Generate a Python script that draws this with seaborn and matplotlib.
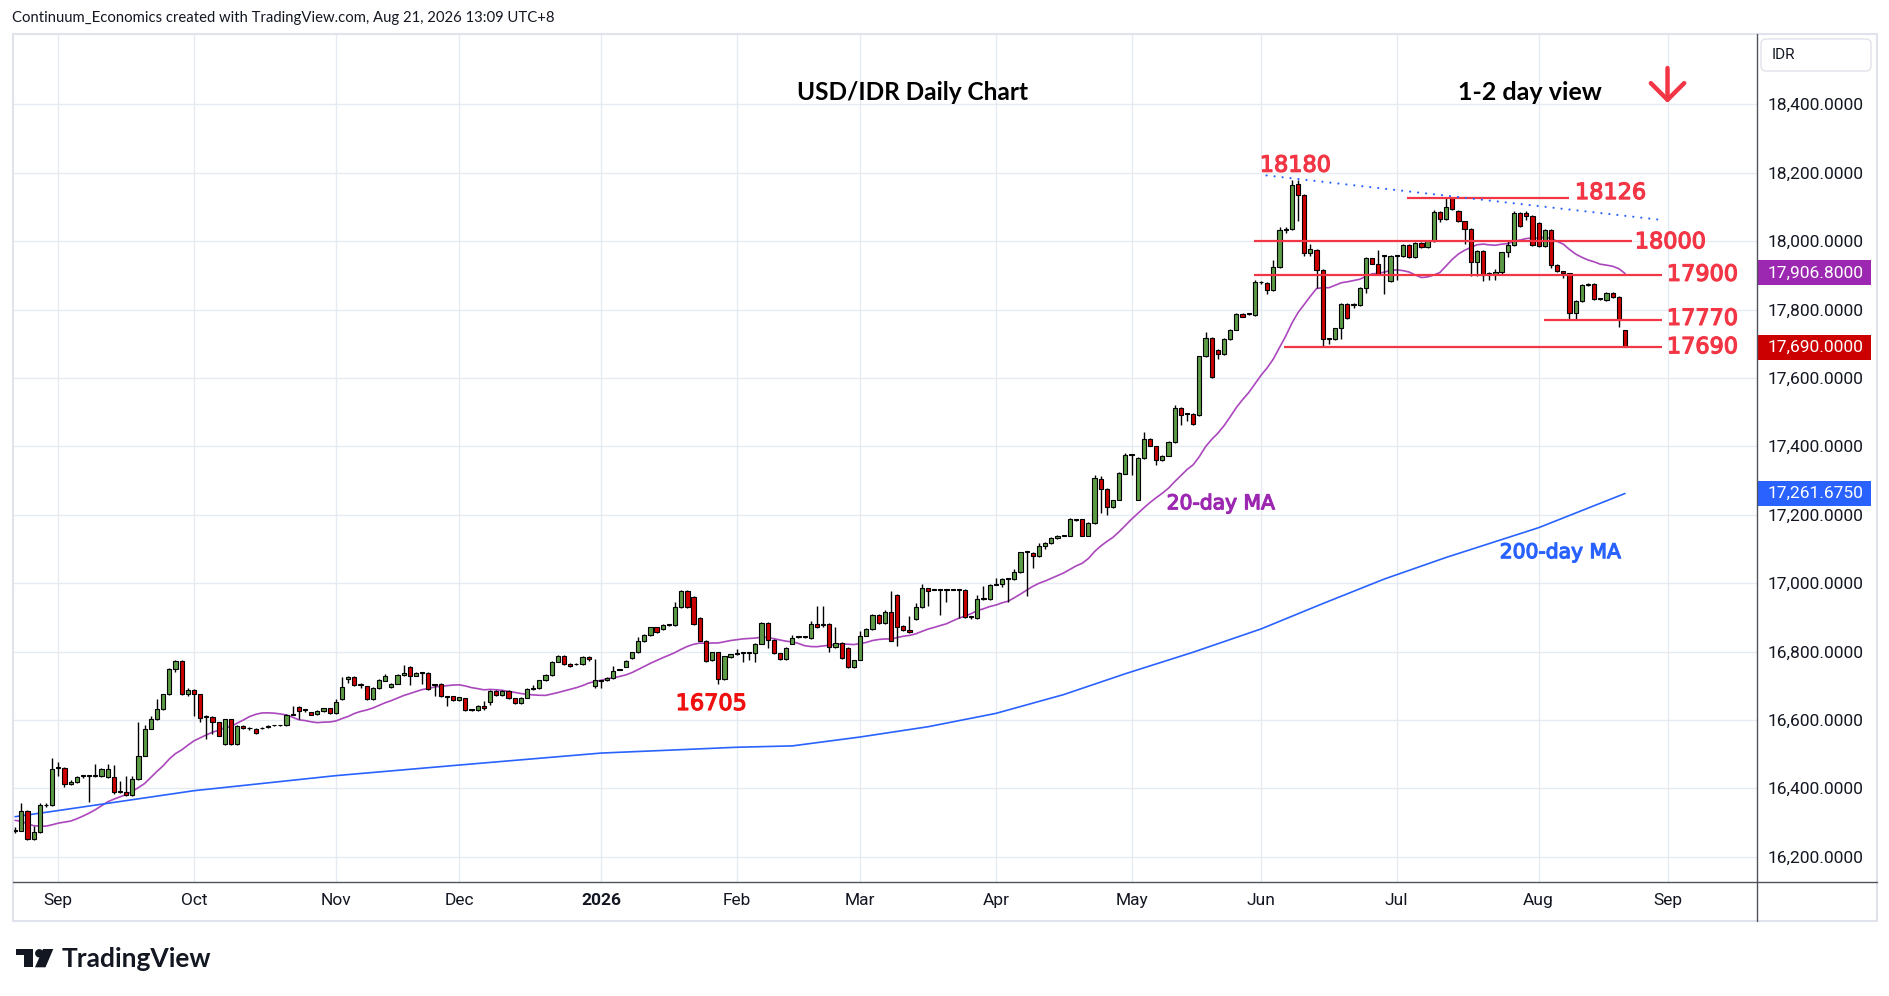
import numpy as np
import pandas as pd
import seaborn as sns
import matplotlib.pyplot as plt
import matplotlib.transforms as mtransforms
import matplotlib.patheffects as pe
from matplotlib.patches import Rectangle, Circle, Polygon, FancyBboxPatch

# USD/IDR daily candles, one row per month (weekday sessions, Aug 21 2025 -> Aug 21 2026)
opens = [
    16276, 16276, 16335, 16251, 16272, 16350, 16350,
    16460, 16459, 16412, 16418, 16435, 16436, 16436, 16436, 16433, 16433, 16389, 16389, 16379, 16427, 16495, 16574, 16602, 16632, 16675, 16749, 16772, 16675,
    16687, 16675, 16608, 16608, 16593, 16529, 16602, 16529, 16583, 16575, 16574, 16575, 16579, 16584, 16584, 16584, 16615, 16639, 16628, 16622, 16616, 16626, 16634,
    16620, 16661, 16719, 16725, 16702, 16698, 16661, 16693, 16715, 16696, 16706, 16731, 16756, 16729, 16737, 16737, 16704, 16705, 16669, 16669,
    16658, 16663, 16628, 16628, 16641, 16651, 16684, 16672, 16684, 16663, 16649, 16665, 16690, 16692, 16716, 16731, 16770, 16787, 16763, 16762, 16763, 16785, 16700,
    16713, 16717, 16723, 16747, 16756, 16780, 16798, 16830, 16848, 16871, 16865, 16878, 16878, 16930, 16977, 16959, 16898, 16832, 16774, 16798, 16719, 16783,
    16792, 16795, 16795, 16795, 16823, 16883, 16834, 16795, 16778, 16823, 16842, 16842, 16839, 16880, 16878, 16880, 16813, 16825, 16810, 16754,
    16776, 16846, 16866, 16907, 16883, 16915, 16965, 16875, 16863, 16895, 16930, 16985, 16981, 16981, 16981, 16981, 16981, 16981, 16901, 16898, 16953, 16953,
    16995, 16997, 17012, 17012, 17033, 17090, 17088, 17079, 17109, 17117, 17132, 17139, 17139, 17184, 17186, 17139, 17176, 17305, 17275, 17222, 17244, 17320,
    17376, 17244, 17366, 17422, 17400, 17359, 17373, 17413, 17512, 17495, 17495, 17492, 17663, 17717, 17683, 17670, 17714, 17741, 17787, 17787, 17785,
    17879, 17878, 17858, 17925, 18033, 18035, 18168, 18134, 17966, 17973, 17915, 17713, 17713, 17745, 17817, 17817, 17813, 17862, 17950, 17934, 17956, 17882,
    17957, 17955, 17989, 17953, 17994, 17982, 18000, 18086, 18065, 18126, 18089, 18058, 18035, 17938, 17971, 17905, 17903, 17909, 17967, 17989, 18082, 18082, 18073,
    18053, 17985, 18033, 17930, 17912, 17906, 17789, 17825, 17872, 17876, 17830, 17828, 17849, 17838, 17739,
]
highs = [
    16286, 16357, 16338, 16290, 16358, 16358, 16490,
    16478, 16461, 16424, 16436, 16437, 16438, 16472, 16458, 16472, 16467, 16420, 16436, 16436, 16595, 16586, 16612, 16661, 16677, 16752, 16774, 16774, 16692,
    16689, 16677, 16613, 16610, 16595, 16604, 16604, 16585, 16585, 16580, 16576, 16578, 16585, 16586, 16586, 16616, 16641, 16641, 16632, 16624, 16628, 16636, 16636,
    16661, 16725, 16727, 16727, 16708, 16700, 16695, 16719, 16735, 16708, 16735, 16760, 16758, 16739, 16740, 16739, 16706, 16707, 16671, 16671,
    16668, 16665, 16631, 16643, 16655, 16686, 16686, 16686, 16686, 16665, 16667, 16692, 16702, 16718, 16733, 16772, 16790, 16789, 16765, 16765, 16787, 16787, 16778,
    16716, 16725, 16758, 16750, 16775, 16800, 16842, 16850, 16873, 16873, 16880, 16881, 16944, 16979, 16979, 16961, 16900, 16834, 16800, 16800, 16788, 16794,
    16807, 16797, 16797, 16825, 16885, 16885, 16836, 16797, 16812, 16849, 16844, 16844, 16888, 16932, 16932, 16882, 16873, 16827, 16812, 16776,
    16859, 16868, 16909, 16909, 16922, 16978, 16967, 16877, 16903, 16942, 16998, 16987, 16983, 16983, 16983, 16983, 16983, 16983, 16903, 16966, 16992, 16997,
    17015, 17014, 17014, 17041, 17092, 17092, 17090, 17117, 17120, 17134, 17141, 17141, 17190, 17186, 17188, 17178, 17315, 17312, 17277, 17244, 17324, 17381,
    17378, 17368, 17441, 17424, 17402, 17375, 17415, 17522, 17514, 17497, 17497, 17665, 17734, 17719, 17685, 17717, 17743, 17789, 17789, 17789, 17885,
    17882, 17880, 17946, 18042, 18042, 18178, 18180, 18137, 17991, 17978, 17918, 17716, 17747, 17819, 17819, 17819, 17865, 17954, 17952, 17975, 17959, 17959,
    17959, 17991, 17991, 17996, 17996, 18002, 18090, 18088, 18128, 18128, 18091, 18060, 18037, 17973, 17973, 17909, 17918, 17969, 17999, 18089, 18084, 18089, 18075,
    18055, 18035, 18035, 17932, 17914, 17908, 17827, 17874, 17878, 17878, 17832, 17852, 17851, 17840, 17741,
]
lows = [
    16270, 16274, 16249, 16249, 16270, 16344, 16348,
    16435, 16403, 16410, 16416, 16431, 16361, 16434, 16434, 16431, 16384, 16385, 16377, 16377, 16425, 16493, 16572, 16600, 16630, 16673, 16739, 16673, 16669,
    16610, 16593, 16544, 16558, 16552, 16527, 16527, 16527, 16573, 16570, 16559, 16573, 16577, 16582, 16582, 16582, 16613, 16602, 16624, 16613, 16614, 16624, 16618,
    16618, 16659, 16708, 16699, 16693, 16659, 16659, 16691, 16713, 16694, 16704, 16729, 16702, 16727, 16705, 16686, 16669, 16667, 16642, 16656,
    16656, 16626, 16626, 16626, 16630, 16645, 16670, 16670, 16661, 16647, 16647, 16663, 16688, 16690, 16714, 16729, 16768, 16761, 16755, 16760, 16761, 16771, 16692,
    16692, 16715, 16721, 16745, 16754, 16778, 16796, 16828, 16846, 16855, 16863, 16876, 16876, 16928, 16928, 16878, 16830, 16770, 16772, 16705, 16717, 16781,
    16790, 16768, 16776, 16768, 16821, 16810, 16793, 16776, 16776, 16821, 16840, 16840, 16837, 16869, 16873, 16800, 16811, 16779, 16752, 16752,
    16774, 16844, 16864, 16881, 16881, 16830, 16815, 16860, 16854, 16893, 16928, 16934, 16979, 16907, 16944, 16979, 16898, 16899, 16895, 16896, 16951, 16951,
    16993, 16988, 16944, 17010, 17031, 16963, 17044, 17077, 17100, 17115, 17130, 17137, 17137, 17182, 17137, 17137, 17174, 17205, 17200, 17220, 17242, 17318,
    17317, 17242, 17364, 17400, 17346, 17357, 17371, 17411, 17462, 17473, 17462, 17490, 17661, 17601, 17654, 17668, 17712, 17739, 17777, 17785, 17780,
    17875, 17844, 17854, 17922, 18025, 18032, 18059, 17957, 17957, 17864, 17693, 17698, 17710, 17713, 17772, 17804, 17810, 17849, 17932, 17900, 17846, 17880,
    17886, 17953, 17951, 17951, 17980, 17980, 17998, 18055, 18063, 18092, 18056, 17992, 17899, 17899, 17884, 17886, 17886, 17901, 17953, 17987, 18041, 18062, 17987,
    17983, 17983, 17920, 17910, 17891, 17771, 17771, 17823, 17870, 17828, 17828, 17826, 17835, 17750, 17690,
]
closes = [
    16278, 16335, 16251, 16272, 16350, 16351, 16456,
    16461, 16412, 16418, 16434, 16436, 16436, 16437, 16456, 16456, 16389, 16390, 16379, 16427, 16495, 16574, 16602, 16632, 16675, 16749, 16772, 16675, 16687,
    16675, 16607, 16609, 16593, 16554, 16602, 16529, 16583, 16575, 16576, 16561, 16576, 16580, 16585, 16585, 16614, 16616, 16625, 16629, 16615, 16626, 16634, 16620,
    16652, 16696, 16725, 16701, 16702, 16661, 16693, 16717, 16727, 16705, 16732, 16737, 16727, 16737, 16738, 16690, 16703, 16669, 16668, 16658,
    16666, 16628, 16629, 16641, 16634, 16684, 16672, 16684, 16663, 16649, 16665, 16690, 16693, 16716, 16731, 16770, 16788, 16763, 16757, 16763, 16785, 16778, 16717,
    16714, 16723, 16743, 16748, 16773, 16798, 16830, 16848, 16871, 16857, 16878, 16879, 16930, 16977, 16930, 16880, 16832, 16772, 16798, 16719, 16786, 16792,
    16793, 16795, 16796, 16823, 16883, 16834, 16795, 16778, 16810, 16839, 16842, 16842, 16881, 16871, 16878, 16813, 16825, 16781, 16754, 16774,
    16846, 16866, 16907, 16883, 16915, 16832, 16873, 16862, 16856, 16930, 16985, 16977, 16981, 16981, 16981, 16981, 16981, 16901, 16901, 16953, 16953, 16995,
    16995, 17012, 17012, 17033, 17090, 17090, 17079, 17109, 17118, 17132, 17139, 17139, 17186, 17184, 17139, 17176, 17308, 17275, 17222, 17242, 17322, 17376,
    17376, 17366, 17422, 17402, 17361, 17373, 17413, 17512, 17492, 17495, 17464, 17663, 17717, 17603, 17670, 17715, 17741, 17787, 17779, 17787, 17879,
    17879, 17858, 17925, 18032, 18036, 18164, 18134, 17966, 17976, 17915, 17713, 17714, 17745, 17817, 17774, 17813, 17862, 17950, 17934, 17903, 17956, 17957,
    17957, 17989, 17953, 17994, 17982, 18000, 18086, 18065, 18101, 18094, 18058, 18035, 17938, 17971, 17902, 17905, 17911, 17967, 17989, 18082, 18043, 18073, 17989,
    17985, 18033, 17930, 17912, 17906, 17789, 17825, 17872, 17876, 17830, 17830, 17849, 17838, 17771, 17690,
]
# sessions before the first visible bar, only used to warm up the 20-day MA
prior_closes = [16390, 16400, 16380, 16370, 16360, 16375, 16365, 16350, 16358,
                16300, 16280, 16260, 16240, 16230, 16220, 16235, 16250, 16245, 16240]

# 200-day MA (bar index, value)
ma200_bars = [0, 7, 29, 52, 72, 95, 108, 117, 126, 137, 148, 159, 170, 180, 191, 202, 212, 222, 232, 247, 261]
ma200_vals = [16317, 16335, 16393, 16437, 16468, 16503, 16513, 16520, 16524, 16550, 16580, 16619, 16674,
              16735, 16798, 16866, 16940, 17012, 17075, 17162, 17262]

month_bars = [7, 29, 52, 72, 95, 117, 137, 159, 181, 202, 224, 247, 268]
month_labels = ['Sep', 'Oct', 'Nov', 'Dec', '2026', 'Feb', 'Mar', 'Apr', 'May', 'Jun', 'Jul', 'Aug', 'Sep']
price_ticks = list(range(16200, 18401, 200))

# analyst levels: price, first bar, last bar
levels = [18126, 18000, 17900, 17770, 17690]
level_from = [225.7, 200.8, 200.8, 247.8, 205.8]
level_to = [251.9, 262.1, 267.0, 267.0, 267.0]

trend_bars = [202.9, 266.4]
trend_prices = [18192, 18063]

tag_values = [17906.8, 17690.0, 17261.675]

assert len(opens) == len(highs) == len(lows) == len(closes) == 262

# ---- style ----
sns.set_style('white')
plt.rcParams['font.family'] = ['Roboto', 'DejaVu Sans']

GREEN = '#5b9b45'
RED_BODY = '#cc0000'
LEVEL_RED = '#f23645'
BLUE = '#2962ff'
PURPLE = '#9c27b0'
TEXT = '#131722'

W, H = 1889, 996
fig = plt.figure(figsize=(W / 100, H / 100), dpi=100)
fig.patch.set_facecolor('white')

ax_l, ax_r, ax_t, ax_b = 12.7, 1756.7, 34.3, 881.7
ax = fig.add_axes([ax_l / W, 1 - ax_b / H, (ax_r - ax_l) / W, (ax_b - ax_t) / H])
ax.set_facecolor('white')

bars = np.arange(len(closes))
o = np.array(opens, dtype=float)
c = np.array(closes, dtype=float)
hi = np.array(highs, dtype=float)
lo = np.array(lows, dtype=float)

# moving averages
all_closes = pd.Series(prior_closes + closes, dtype=float)
ma20 = all_closes.rolling(20).mean().iloc[len(prior_closes):].to_numpy()

sns.lineplot(x=bars, y=ma20, ax=ax, color='#ab47bc', lw=1.2, zorder=2)
sns.lineplot(x=ma200_bars, y=ma200_vals, ax=ax, color=BLUE, lw=1.2, zorder=2)

# candles
up = c >= o
body_lo = np.minimum(o, c)
body_h = np.maximum(np.abs(c - o), 2.5)
ax.vlines(bars, lo, hi, color='black', lw=1.0, zorder=3)
ax.bar(bars[up], body_h[up], bottom=body_lo[up], width=0.68, color=GREEN,
       edgecolor='black', linewidth=0.8, zorder=3.5)
ax.bar(bars[~up], body_h[~up], bottom=body_lo[~up], width=0.68, color=RED_BODY,
       edgecolor='black', linewidth=0.8, zorder=3.5)

# levels and trendline
ax.hlines(levels, level_from, level_to, color=LEVEL_RED, lw=1.6, zorder=4)
ax.plot(trend_bars, trend_prices, color=BLUE, lw=1.6, ls=(0, (0.01, 3.6)),
        dash_capstyle='round', zorder=4)

# level labels (slightly thickened strokes, like the reference)
def thick(color):
    return [pe.withStroke(linewidth=0.9, foreground=color)]

lab_kw = dict(family='DejaVu Sans', fontsize=16.1, va='baseline', ha='left', zorder=5)
for txt, x, y, col in [('18180', 201.8, 18203, LEVEL_RED), ('18126', 252.9, 18123, LEVEL_RED),
                       ('18000', 262.6, 17979, LEVEL_RED), ('17900', 267.8, 17884, LEVEL_RED),
                       ('17770', 267.8, 17755, LEVEL_RED), ('17690', 267.8, 17672, LEVEL_RED),
                       ('16705', 107.1, 16629, '#f01010')]:
    ax.text(x, y, txt, color=col, path_effects=thick(col), **lab_kw)

ax.text(186.7, 17216, '20-day MA', color=PURPLE, family='DejaVu Sans', fontsize=14.6,
        va='baseline', ha='left', zorder=5, path_effects=thick(PURPLE))
ax.text(240.7, 17073, '200-day MA', color=BLUE, family='DejaVu Sans', fontsize=14.6,
        va='baseline', ha='left', zorder=5, path_effects=thick(BLUE))

ax.text(126.7, 18412, 'USD/IDR Daily Chart', color='black', family='Lato', fontweight='bold',
        fontsize=17.6, va='baseline', ha='left')
ax.text(233.9, 18412, '1-2 day view', color='black', family='Lato', fontweight='bold',
        fontsize=18, va='baseline', ha='left')

ax.annotate('', xy=(267.9, 18404), xytext=(267.9, 18506),
            arrowprops=dict(arrowstyle='->,head_length=0.6,head_width=0.6', color=LEVEL_RED,
                            lw=3.2, shrinkA=0, shrinkB=0, mutation_scale=20))

# axes, grid, ticks
ax.set_xlim(-0.39, 282.36)
ax.set_ylim(16126.9, 18604.7)
ax.set_xticks(month_bars)
ax.set_xticklabels(month_labels)
ax.get_xticklabels()[4].set_fontweight('bold')
ax.yaxis.tick_right()
ax.set_yticks(price_ticks)
ax.set_yticklabels([f'{v:,.4f}' for v in price_ticks])
ax.tick_params(axis='y', length=0, pad=8, labelsize=12.5, labelcolor=TEXT)
ax.tick_params(axis='x', length=0, pad=8, labelsize=12.5, labelcolor=TEXT)
ax.grid(True, color='#e6ebf1', lw=1.0)
ax.set_axisbelow(True)
for s in ax.spines.values():
    s.set_visible(False)
ax.set_xlabel('')
ax.set_ylabel('')

# price tags on the scale
tr = mtransforms.blended_transform_factory(ax.transAxes, ax.transData)
tag_w = 114 / (ax_r - ax_l)
half = 12.5 / 0.342
for val, col in zip(tag_values, [PURPLE, RED_BODY, BLUE]):
    ax.add_patch(Rectangle((1.0, val - half), tag_w, 2 * half, transform=tr, facecolor=col,
                           edgecolor='none', clip_on=False, zorder=6))
    ax.text(1 + 11.3 / (ax_r - ax_l), val, f'{val:,.4f}', transform=tr, color='white',
            va='center', ha='left', fontsize=12.5, clip_on=False, zorder=7)

# frame, header and logo in pixel coordinates
ov = fig.add_axes([0, 0, 1, 1], zorder=5)
ov.set_xlim(0, W)
ov.set_ylim(H, 0)
ov.axis('off')
ov.patch.set_alpha(0)

ov.add_patch(Rectangle((ax_l, ax_t), 1876.7 - ax_l, 921 - ax_t, fill=False,
                       edgecolor='#e0e3eb', lw=1.5))
ov.plot([ax_r, ax_r], [ax_t, 921], color='#50535e', lw=1.0)
ov.plot([ax_l, 1876.7], [ax_b, ax_b], color='#50535e', lw=1.0)

ov.add_patch(FancyBboxPatch((1761, 39), 110, 32, boxstyle='round,pad=0,rounding_size=5',
                            facecolor='white', edgecolor='#e0e3eb', lw=1.0))
ov.text(1772, 55, 'IDR', fontsize=11, color=TEXT, va='center', ha='left')

ov.text(12, 18, 'Continuum_Economics created with TradingView.com, Aug 21, 2026 13:09 UTC+8',
        fontsize=10.7, color=TEXT, va='center', ha='left', family='Lato')

ov.add_patch(Rectangle((16, 949), 17.3, 6, color='#131722', lw=0))
ov.add_patch(Rectangle((24, 949), 9.3, 18.3, color='#131722', lw=0))
ov.add_patch(Circle((39.3, 953.3), 4.2, color='#131722', lw=0))
ov.add_patch(Polygon([(43, 949), (53.3, 949), (45.5, 967.3), (35, 967.3)], closed=True,
                     color='#131722', lw=0))
ov.text(61.7, 966.7, 'TradingView', fontsize=19, fontweight='bold', family='Lato',
        color='#131722', va='baseline', ha='left')

fig.savefig('out.png', dpi=100, facecolor='white')
